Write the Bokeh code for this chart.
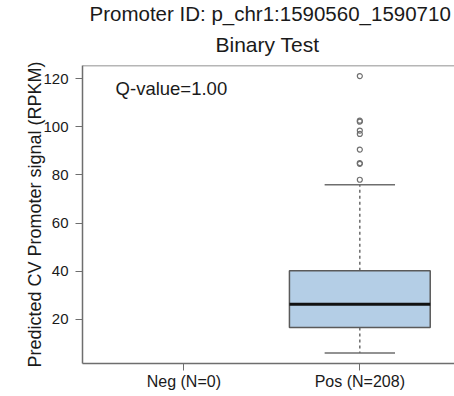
from bokeh.plotting import figure
from bokeh.models import Range1d, FixedTicker, Title, Span, Label, ColumnDataSource
from bokeh.embed import file_html
from bokeh.resources import INLINE

# ---- data ----
categories = ["Neg (N=0)", "Pos (N=208)"]
positions = [1, 2]
# box statistics (only Pos group has data)
box_pos = [2]
q1 = [16.7]
median = [26.3]
q3 = [40.2]
whisker_low = [6.1]
whisker_high = [75.9]
outliers_y = [121.0, 102.5, 102.1, 98.4, 97.0, 90.5, 84.9, 84.6, 78.0]
y_ticks = [20, 40, 60, 80, 100, 120]
qvalue_text = "Q-value=1.00"
title_line1 = "Promoter ID: p_chr1:1590560_1590710"
title_line2 = "Binary Test"
y_label = "Predicted CV Promoter signal (RPKM)"

BOX_W = 0.8
CAP_W = 0.4
FONT = "Liberation Sans"
FRAME = "#6e6e6e"

y_lo, y_hi = 1.74, 125.4
p = figure(width=454, height=396, x_range=Range1d(0.424, 2.538),
           y_range=Range1d(y_lo, y_hi), output_backend="svg",
           toolbar_location=None, title=None,
           min_border_left=82, min_border_right=0, min_border_bottom=33,
           min_border_top=65)
p.outline_line_color = None
p.grid.visible = False
p.background_fill_color = "white"

t2 = Title(text=title_line2, align="left", text_font=FONT, text_font_size="21px",
           text_font_style="normal", text_color="#1a1a1a", standoff=19, offset=133)
t1 = Title(text=title_line1, align="left", text_font=FONT, text_font_size="20.5px",
           text_font_style="normal", text_color="#1a1a1a", standoff=-6, offset=7)
p.add_layout(t2, "above")
p.add_layout(t1, "above")

# top frame line
p.add_layout(Span(location=y_hi, dimension="width", line_color=FRAME, line_width=1.5))

# axes
xa = p.xaxis[0]
xa.ticker = FixedTicker(ticks=positions)
xa.major_label_overrides = {pos: lab for pos, lab in zip(positions, categories)}
xa.minor_tick_line_color = None
xa.major_tick_in = 0
xa.major_tick_out = 7
xa.major_label_standoff = 2
xa.major_label_text_font = FONT
xa.major_label_text_font_size = "16px"
xa.major_label_text_color = "#1a1a1a"
xa.axis_line_color = FRAME
xa.axis_line_width = 1.5
xa.major_tick_line_color = FRAME

ya = p.yaxis[0]
ya.ticker = FixedTicker(ticks=y_ticks)
ya.minor_tick_line_color = None
ya.major_tick_in = 0
ya.major_tick_out = 7
ya.major_label_standoff = 7
ya.major_label_text_font = FONT
ya.major_label_text_font_size = "15px"
ya.major_label_text_color = "#1a1a1a"
ya.axis_line_color = FRAME
ya.axis_line_width = 1.5
ya.major_tick_line_color = FRAME
ya.axis_label = y_label
ya.axis_label_text_font = FONT
ya.axis_label_text_font_size = "18px"
ya.axis_label_text_font_style = "normal"
ya.axis_label_text_color = "#1a1a1a"
ya.axis_label_standoff = -5

# box plot
src = ColumnDataSource(dict(
    x=box_pos, q1=q1, med=median, q3=q3, lo=whisker_low, hi=whisker_high,
    left=[x - BOX_W / 2 for x in box_pos], right=[x + BOX_W / 2 for x in box_pos],
    cl=[x - CAP_W / 2 for x in box_pos], cr=[x + CAP_W / 2 for x in box_pos],
))
# whiskers (dashed)
p.segment(x0="x", y0="q3", x1="x", y1="hi", source=src, line_color="#555555",
          line_width=1.3, line_dash="3 3")
p.segment(x0="x", y0="q1", x1="x", y1="lo", source=src, line_color="#555555",
          line_width=1.3, line_dash="3 3")
# caps
p.segment(x0="cl", y0="hi", x1="cr", y1="hi", source=src, line_color="#6e6e6e", line_width=1.5)
p.segment(x0="cl", y0="lo", x1="cr", y1="lo", source=src, line_color="#6e6e6e", line_width=1.5)
# box
p.quad(left="left", right="right", bottom="q1", top="q3", source=src,
       fill_color="#b4cee6", line_color="#5a5a5a", line_width=1.5)
# median
p.segment(x0="left", y0="med", x1="right", y1="med", source=src, line_color="#111111",
          line_width=3)
# outliers
p.scatter(x=[box_pos[0]] * len(outliers_y), y=outliers_y, size=5, marker="circle",
          fill_color=None, line_color="#707070", line_width=1.2)

# annotation
p.add_layout(Label(x=0.612, y=116.0, text=qvalue_text, text_font=FONT,
                   text_font_size="18.5px", text_color="#1a1a1a",
                   text_baseline="alphabetic"))

open("out.html", "w").write(file_html(p, INLINE))
